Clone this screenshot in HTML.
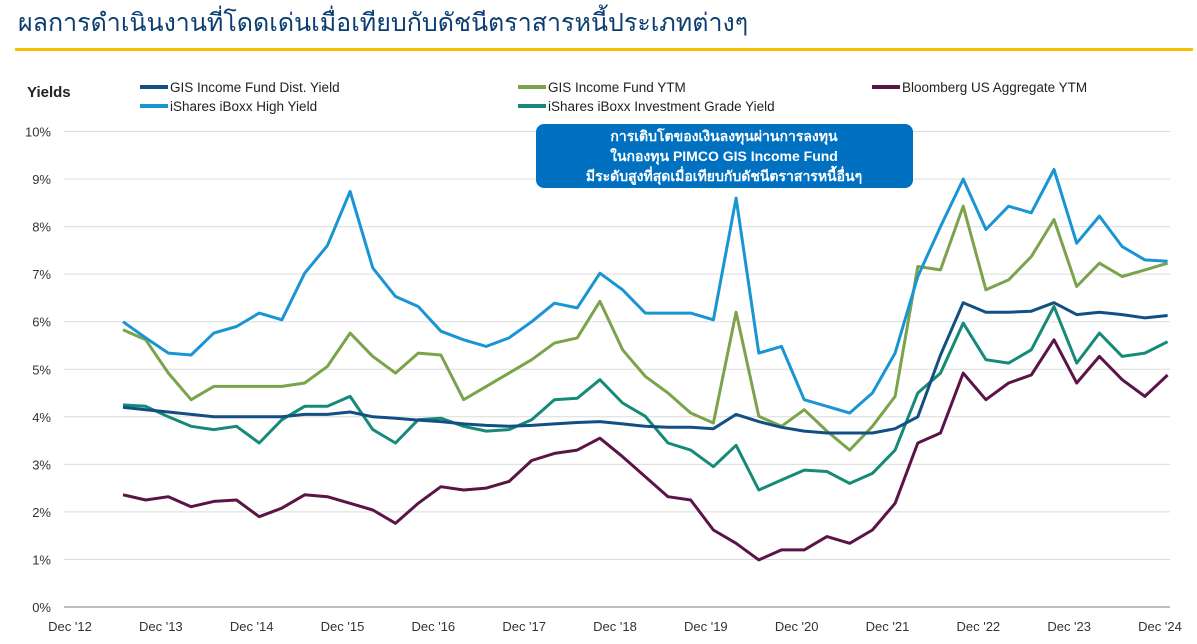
<!DOCTYPE html>
<html><head><meta charset="utf-8">
<style>
html,body{margin:0;padding:0;background:#fff;width:1197px;height:644px;overflow:hidden;font-family:"Liberation Sans","Noto Sans CJK SC",sans-serif;}
</style></head>
<body>
<svg width="1197" height="644" viewBox="0 0 1197 644" xmlns="http://www.w3.org/2000/svg">
<text x="18" y="31" font-size="25" fill="#0b3d70" font-family="'Liberation Sans','Noto Sans CJK SC',sans-serif">ผลการดำเนินงานที่โดดเด่นเมื่อเทียบกับดัชนีตราสารหนี้ประเภทต่างๆ</text>
<rect x="15" y="48" width="1178" height="3" fill="#f7bd00"/>
<text x="27" y="97" font-size="15" font-weight="bold" fill="#222">Yields</text>
<g id="grid"></g>
<g id="lines"></g>
<g id="legend"></g>
<g>
<rect x="536" y="124" width="377" height="64" rx="8" fill="#0070c0"/>
<text x="724" y="141" text-anchor="middle" font-size="14" font-weight="bold" fill="#fff" font-family="'Liberation Sans','Noto Sans CJK SC',sans-serif">การเติบโตของเงินลงทุนผ่านการลงทุน</text>
<text x="724" y="161" text-anchor="middle" font-size="14" font-weight="bold" fill="#fff" font-family="'Liberation Sans','Noto Sans CJK SC',sans-serif">ในกองทุน PIMCO GIS Income Fund</text>
<text x="724" y="181" text-anchor="middle" font-size="14" font-weight="bold" fill="#fff" font-family="'Liberation Sans','Noto Sans CJK SC',sans-serif">มีระดับสูงที่สุดเมื่อเทียบกับดัชนีตราสารหนี้อื่นๆ</text>
</g>
</svg>
<script>
const xLabels=["Dec '12","Dec '13","Dec '14","Dec '15","Dec '16","Dec '17","Dec '18","Dec '19","Dec '20","Dec '21","Dec '22","Dec '23","Dec '24"];
const yTicks=[0,1,2,3,4,5,6,7,8,9,10];
const startMonth=7, stepMonths=3; // months after Dec 2012
const distYield=[4.2,4.15,4.1,4.05,4.0,4.0,4.0,4.0,4.05,4.05,4.1,4.0,3.97,3.93,3.9,3.85,3.82,3.8,3.82,3.85,3.88,3.9,3.85,3.8,3.78,3.78,3.75,4.05,3.9,3.78,3.7,3.66,3.66,3.66,3.75,4.0,5.3,6.4,6.2,6.2,6.22,6.4,6.15,6.2,6.15,6.08,6.13];
const gisYtm=[5.83,5.62,4.92,4.36,4.64,4.64,4.64,4.64,4.71,5.06,5.76,5.27,4.92,5.34,5.3,4.36,4.64,4.92,5.2,5.55,5.66,6.43,5.41,4.85,4.5,4.08,3.87,6.2,4.01,3.8,4.15,3.7,3.3,3.8,4.43,7.16,7.09,8.43,6.67,6.88,7.37,8.15,6.74,7.23,6.95,7.09,7.23];
const bbgAgg=[2.36,2.25,2.32,2.11,2.22,2.25,1.9,2.08,2.36,2.32,2.18,2.04,1.76,2.18,2.53,2.46,2.5,2.64,3.08,3.23,3.3,3.55,3.16,2.74,2.32,2.25,1.62,1.34,0.99,1.2,1.2,1.48,1.34,1.62,2.18,3.45,3.66,4.92,4.36,4.71,4.88,5.62,4.71,5.27,4.78,4.43,4.88];
const highYield=[6.0,5.66,5.34,5.3,5.76,5.9,6.18,6.04,7.02,7.6,8.74,7.13,6.53,6.32,5.8,5.62,5.48,5.66,6.0,6.39,6.29,7.02,6.67,6.18,6.18,6.18,6.04,8.6,5.34,5.48,4.36,4.22,4.08,4.5,5.34,6.95,8.0,9.0,7.94,8.43,8.29,9.2,7.65,8.22,7.58,7.3,7.27];
const igYield=[4.25,4.22,4.0,3.8,3.73,3.8,3.45,3.94,4.22,4.22,4.43,3.73,3.45,3.94,3.97,3.8,3.7,3.73,3.94,4.36,4.39,4.78,4.29,4.01,3.45,3.3,2.95,3.4,2.46,2.67,2.88,2.85,2.6,2.81,3.3,4.5,4.92,5.97,5.2,5.13,5.41,6.32,5.13,5.76,5.27,5.34,5.58];
const seriesNames=["GIS Income Fund Dist. Yield","GIS Income Fund YTM","Bloomberg US Aggregate YTM","iShares iBoxx High Yield","iShares iBoxx Investment Grade Yield"];
const seriesColors=["#114f84","#7ba34b","#5b1446","#1a95d4","#158a78"];

const NS="http://www.w3.org/2000/svg";
const xOf=m=>70+m*(1090/144);
const yOf=v=>607-v*47.55;
function mk(tag,attrs,parent){const e=document.createElementNS(NS,tag);for(const k in attrs)e.setAttribute(k,attrs[k]);parent.appendChild(e);return e;}
const grid=document.getElementById('grid');
yTicks.forEach(t=>{
  const l=mk('line',{x1:64,x2:1170,y1:yOf(t),y2:yOf(t),stroke:t===0?'#a8a8a8':'#dcdcdc','stroke-width':t===0?1.5:1},grid);
  
  
  const tx=mk('text',{x:51,y:yOf(t)+5,'text-anchor':'end','font-size':13,fill:'#333'},grid);
  tx.textContent=t+'%';
  
  
});
xLabels.forEach((s,i)=>{
  const tx=mk('text',{x:xOf(i*12),y:631,'text-anchor':'middle','font-size':13,fill:'#333'},grid);
  tx.textContent=s;
  
  
});
const lines=document.getElementById('lines');
const allSeries=[distYield,gisYtm,bbgAgg,highYield,igYield];
const order=[2,4,1,3,0];
order.forEach(si=>{
  const d=allSeries[si].map((v,i)=>(i?'L':'M')+xOf(startMonth+i*stepMonths).toFixed(1)+','+yOf(v).toFixed(1)).join(' ');
  const p=mk('path',{d:d,fill:'none',stroke:seriesColors[si],'stroke-width':3,'stroke-linejoin':'round'},lines);
  
  
});
const legend=document.getElementById('legend');
const legPos=[[140,87],[518,87],[872,87],[140,106],[518,106]];
seriesNames.forEach((n,i)=>{
  const g=mk('g',{},legend);
  
  
  const [x,y]=legPos[i];
  mk('line',{x1:x,x2:x+28,y1:y,y2:y,stroke:seriesColors[i],'stroke-width':4},g);
  const t=mk('text',{x:x+30,y:y+5,'font-size':13.5,fill:'#222'},g);
  t.textContent=n;
});
</script>
</body></html>
